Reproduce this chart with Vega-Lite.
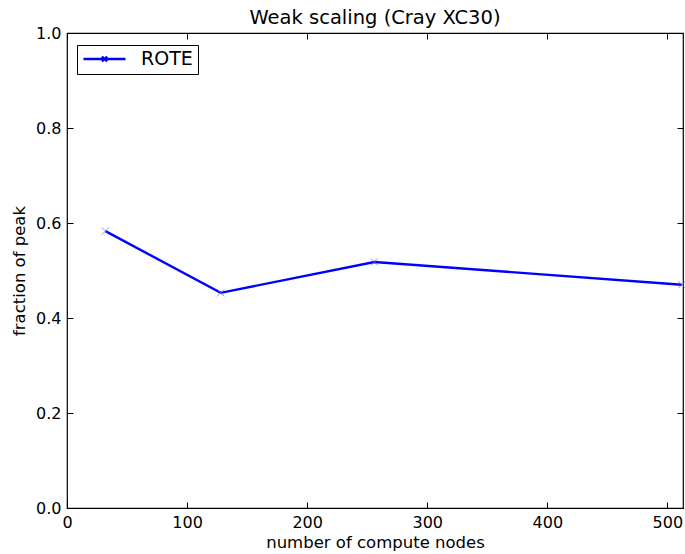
{
  "$schema": "https://vega.github.io/schema/vega-lite/v6.json",
  "autosize": "none",
  "width": 616,
  "height": 475,
  "padding": {"left": 67, "top": 33, "right": 2, "bottom": 46},
  "background": "white",
  "config": {
    "font": "DejaVu Sans",
    "view": {"stroke": "black", "strokeWidth": 1.2},
    "axis": {"domain": false, "grid": false, "labelFlush": false, "labelFont": "DejaVu Sans", "titleFont": "DejaVu Sans", "labelFontSize": 16, "titleFontSize": 16.5, "titleFontWeight": "normal", "labelColor": "black", "titleColor": "black", "tickColor": "black", "tickSize": -6, "labelPadding": 12}
  },
  "title": {"text": "Weak scaling (Cray XC30)", "fontSize": 19.5, "fontWeight": "normal", "font": "DejaVu Sans", "offset": -3, "color": "black"},
  "data": {"values": [
    {"nodes": 32, "fraction": 0.583, "series": "ROTE"},
    {"nodes": 128, "fraction": 0.453, "series": "ROTE"},
    {"nodes": 256, "fraction": 0.518, "series": "ROTE"},
    {"nodes": 512, "fraction": 0.470, "series": "ROTE"}
  ]},
  "layer": [
    {
      "mark": {"type": "line", "strokeWidth": 2.4},
      "encoding": {
        "x": {"field": "nodes", "type": "quantitative", "scale": {"domain": [0, 513], "nice": false}, "axis": {"title": "number of compute nodes", "values": [0, 100, 200, 300, 400, 500], "titlePadding": 4}},
        "y": {"field": "fraction", "type": "quantitative", "scale": {"domain": [0, 1], "nice": false}, "axis": {"title": "fraction of peak", "values": [0, 0.2, 0.4, 0.6, 0.8, 1.0], "format": ".1f", "titlePadding": 8}},
        "color": {"field": "series", "type": "nominal", "scale": {"range": ["#0000ff"]}, "legend": {"title": null, "orient": "none", "legendX": 10, "legendY": 12, "strokeColor": "black", "fillColor": "white", "padding": 5, "clipHeight": 18, "cornerRadius": 0, "symbolType": "M-1,0H1M-0.12,-0.12L0.12,0.12M-0.12,0.12L0.12,-0.12", "symbolSize": 1764, "symbolStrokeWidth": 2.4, "symbolFillColor": "transparent", "labelFontSize": 19, "labelFont": "DejaVu Sans", "labelColor": "black", "labelOffset": 14}}
      }
    },
    {
      "mark": {"type": "point", "shape": "M-1,-1L1,1M-1,1L1,-1", "filled": false, "size": 50, "strokeWidth": 1, "color": "#6666ff"},
      "encoding": {
        "x": {"field": "nodes", "type": "quantitative", "axis": {"orient": "top", "labels": false, "title": null, "values": [0, 100, 200, 300, 400, 500]}},
        "y": {"field": "fraction", "type": "quantitative", "axis": {"orient": "right", "labels": false, "title": null, "values": [0, 0.2, 0.4, 0.6, 0.8, 1.0]}}
      }
    }
  ],
  "resolve": {"axis": {"x": "independent", "y": "independent"}}
}
